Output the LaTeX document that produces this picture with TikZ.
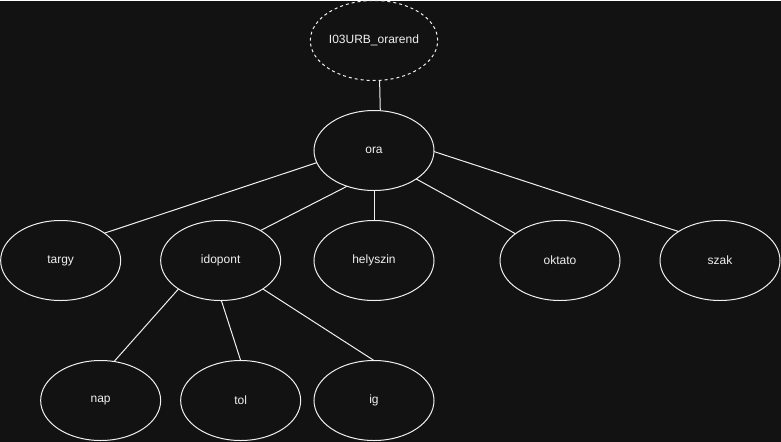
\documentclass[tikz,border=0pt]{standalone}
\usepackage{fontspec}
\setmainfont{Liberation Sans}
\usetikzlibrary{shapes.geometric,positioning}
\definecolor{bgcol}{HTML}{121212}
\definecolor{linecol}{HTML}{F0F0F0}
\begin{document}
\begin{tikzpicture}[-,line width=0.75pt,draw=linecol,text=linecol,font=\fontsize{9pt}{11pt}\selectfont]
  \tikzstyle{attr}=[ellipse,draw=linecol,minimum width=90pt,minimum height=60pt,inner sep=0pt,outer sep=0pt]

  \fill[bgcol] (-280.5pt,30pt) rectangle (305.25pt,-300.75pt);

  \node[attr,dash pattern=on 2.25pt off 2.25pt] (root) {I03URB\_orarend};
  \node[attr] (ora)      [below=22.5pt of root] {ora};
  \node[attr] (helyszin) [below=22.5pt of ora] {helyszin};
  \node[attr] (idopont)  [left=25pt of helyszin] {idopont};
  \node[attr] (targy)    [left=30pt of idopont] {targy};
  \node[attr] (oktato)   [right=49.5pt of helyszin] {oktato};
  \node[attr] (szak)     [right=30pt of oktato] {szak};
  \node[attr] (ig)       [below=45pt of helyszin] {ig};
  \node[attr] (tol)      [left=10pt of ig] {tol};
  \node[attr] (nap)      [left=15pt of tol] {nap};

  \path[draw=linecol]
  (root.278.6) edge (ora.81.4)
  (ora.192.6) edge (targy.32.5)
  (ora.233) edge (idopont.37.6)
  (ora.south) edge (helyszin.north)
  (ora.326) edge (oktato.149)
  (ora.359) edge (szak.145)
  (idopont.214) edge (nap.71)
  (idopont.271) edge (tol.90)
  (idopont.326) edge (ig.90);
\end{tikzpicture}
\end{document}
